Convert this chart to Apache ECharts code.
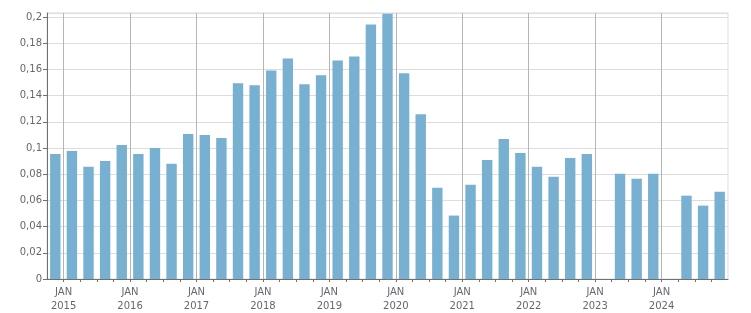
<!DOCTYPE html>
<html>
<head>
<meta charset="utf-8">
<script src="https://cdn.jsdelivr.net/npm/echarts@6/dist/echarts.min.js"></script>
<style>
html,body{margin:0;padding:0;background:#fff;}
#chart{width:751px;height:313px;}
</style>
</head>
<body>
<div id="chart"></div>
<script>
// Quarterly categories (first bar = Q4 2014, last = Q4 2024)
const categories = [
  '2014 Q4',
  '2015 Q1','2015 Q2','2015 Q3','2015 Q4',
  '2016 Q1','2016 Q2','2016 Q3','2016 Q4',
  '2017 Q1','2017 Q2','2017 Q3','2017 Q4',
  '2018 Q1','2018 Q2','2018 Q3','2018 Q4',
  '2019 Q1','2019 Q2','2019 Q3','2019 Q4',
  '2020 Q1','2020 Q2','2020 Q3','2020 Q4',
  '2021 Q1','2021 Q2','2021 Q3','2021 Q4',
  '2022 Q1','2022 Q2','2022 Q3','2022 Q4',
  '2023 Q1','2023 Q2','2023 Q3','2023 Q4',
  '2024 Q1','2024 Q2','2024 Q3','2024 Q4'
];
const values = [
  0.0954,
  0.0977, 0.0856, 0.0901, 0.1023,
  0.0954, 0.1000, 0.0879, 0.1106,
  0.1099, 0.1076, 0.1494, 0.1478,
  0.1592, 0.1683, 0.1486, 0.1554,
  0.1668, 0.1698, 0.1942, 0.2025,
  0.1570, 0.1258, 0.0696, 0.0484,
  0.0719, 0.0909, 0.1068, 0.0962,
  0.0856, 0.0780, 0.0924, 0.0954,
  null,   0.0803, 0.0765, 0.0803,
  null,   0.0636, 0.0560, 0.0666
];
const tickYears = ['2015','2016','2017','2018','2019','2020','2021','2022','2023','2024'];
const yTicks = [0, 0.02, 0.04, 0.06, 0.08, 0.1, 0.12, 0.14, 0.16, 0.18, 0.2];

const chart = echarts.init(document.getElementById('chart'), null, {renderer: 'canvas'});
const font = 'DejaVu Sans';
const clear = 'rgba(0,0,0,0)';

chart.setOption({
  animation: false,
  grid: {left: 47, right: 23, top: 13, bottom: 32, show: true, borderColor: '#dddddd', borderWidth: 1},
  xAxis: {
    type: 'value',
    min: 0,
    max: categories.length,
    interval: 1,
    axisLine: {show: true, lineStyle: {color: '#707070', width: 1}},
    axisTick: {show: true, length: 3, lineStyle: {color: '#707070'}},
    splitLine: {show: true, showMaxLine: false, lineStyle: {color: [clear, '#b5b5b5', clear, clear], width: 1}},
    axisLabel: {
      showMaxLabel: false,
      showMinLabel: false,
      margin: 7,
      color: '#666672',
      fontFamily: font,
      fontSize: 10,
      lineHeight: 13.5,
      formatter: function (v) {
        if (v % 4 !== 1) return '';
        const y = tickYears[(v - 1) / 4];
        return y ? 'JAN\n' + y : '';
      }
    }
  },
  yAxis: {
    type: 'value',
    min: 0,
    max: 0.203,
    interval: 0.02,
    axisLine: {show: true, lineStyle: {color: '#707070', width: 1}},
    axisTick: {show: true, length: 4, lineStyle: {color: '#707070'}},
    splitLine: {show: true, lineStyle: {color: '#dddddd', width: 1}},
    axisLabel: {
      showMaxLabel: false,
      margin: 5,
      color: '#666672',
      fontFamily: font,
      fontSize: 10,
      formatter: function (v) {
        const r = Math.round(v * 100) / 100;
        if (!yTicks.some(t => Math.abs(t - r) < 1e-9) || Math.abs(v - r) > 1e-6) return '';
        return String(r).replace('.', ',');
      }
    }
  },
  series: [{
    type: 'bar',
    barWidth: 10.4,
    itemStyle: {color: '#78b0d2'},
    data: values.map((v, i) => [i + 0.5, v])
  }]
});
</script>
</body>
</html>
